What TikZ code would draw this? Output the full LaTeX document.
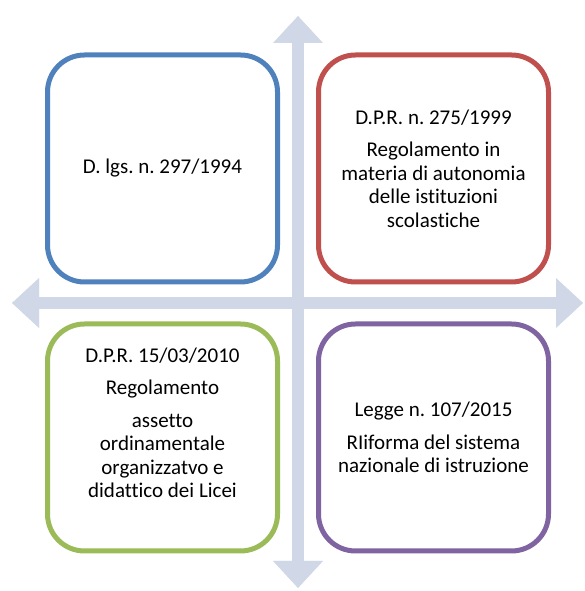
\documentclass[tikz,border=0pt]{standalone}
\usepackage{fontspec}
\setmainfont[Ligatures=NoCommon]{Carlito}
\usepackage{tikz}
\usetikzlibrary{arrows.meta, positioning}
\definecolor{crossfill}{RGB}{208,216,232}
\definecolor{crossshade}{RGB}{190,190,196}
\definecolor{boxblue}{RGB}{79,129,189}
\definecolor{boxred}{RGB}{192,80,77}
\definecolor{boxgreen}{RGB}{155,187,89}
\definecolor{boxpurple}{RGB}{128,100,162}
\frenchspacing

\begin{document}
\begin{tikzpicture}[x=1pt, y=1pt,
    bar/.style={line width=12pt, draw=#1,
        {Triangle[length=27pt, width=48pt]}-{Triangle[length=27pt, width=48pt]}},
    quad/.style={draw=#1, line width=5pt, rounded corners=37pt, fill=white,
        minimum width=230pt, minimum height=227pt, align=center,
        font=\fontsize{21}{23.5}\selectfont}]
    \useasboundingbox (0,0) rectangle (585,591);

    % Cross of arrows
    \coordinate (top) at (298,575);
    \coordinate (bottom) at (298,3);
    \coordinate (left) at (12,288);
    \coordinate (right) at (583,288);
    \begin{scope}[shift={(2,-3)}, opacity=0.5]
        \draw[bar=crossshade] (left) -- (right);
        \draw[bar=crossshade] (bottom) -- (top);
    \end{scope}
    \draw[bar=crossfill] (left) -- (right);
    \draw[bar=crossfill] (bottom) -- (top);

    % Quadrants
    \node[quad=boxblue] (lgs) at (162.5,422.5) {D. lgs. n. 297/1994};
    \node[quad=boxred] (dpr99) at (433.5,422.5) {D.P.R. n. 275/1999\\[9pt]
        Regolamento in\\ materia di autonomia\\ delle istituzioni\\ scolastiche};
    \node[quad=boxgreen] (dpr10) at (162.5,153.5) {D.P.R. 15/03/2010\\[9pt]
        Regolamento\\[9pt] assetto\\ ordinamentale\\ organizzatvo e\\
        didattico dei Licei\\[6.5pt] ~};
    \node[quad=boxpurple] (legge) at (433.5,153.5) {Legge n. 107/2015\\[9pt]
        RIiforma del sistema\\ nazionale di istruzione};
\end{tikzpicture}
\end{document}
